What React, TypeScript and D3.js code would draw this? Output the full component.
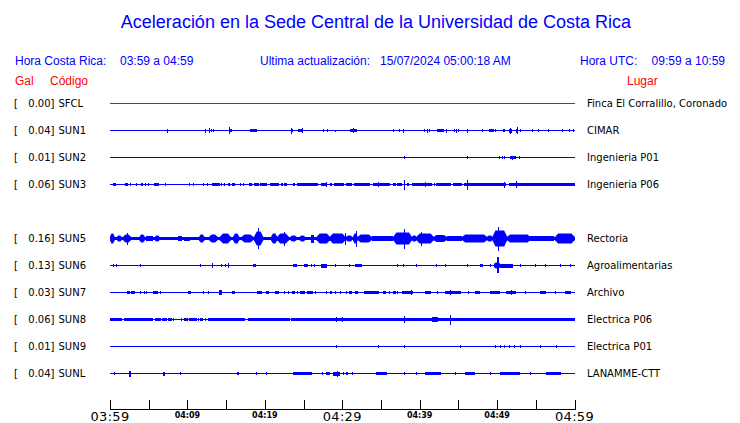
import React from "react";
import * as d3 from "d3";

// ---------- data ----------
const title = "Aceleración en la Sede Central de la Universidad de Costa Rica";
const crLabel = "Hora Costa Rica:";
const crRange = "03:59 a 04:59";
const updLabel = "Ultima actualización:";
const updValue = "15/07/2024 05:00:18 AM";
const utcLabel = "Hora UTC:";
const utcRange = "09:59 a 10:59";

const codes = ["SFCL", "SUN1", "SUN2", "SUN3", "SUN5", "SUN6", "SUN7", "SUN8", "SUN9", "SUNL"];
const galValues = ["0.00", "0.04", "0.01", "0.06", "0.16", "0.13", "0.03", "0.06", "0.01", "0.04"];
const places = [
  "Finca El Corralillo, Coronado",
  "CIMAR",
  "Ingenieria P01",
  "Ingenieria P06",
  "Rectoria",
  "Agroalimentarias",
  "Archivo",
  "Electrica P06",
  "Electrica P01",
  "LANAMME-CTT",
];
// slot of each station in the list (slot 4 = SUN4, not shown)
const slots = [0, 1, 2, 3, 5, 6, 7, 8, 9, 10];

// time axis: minutes after 03:59
const tickMinutes = d3.range(0, 61, 5);
const majorTicks = [0, 30, 60];
const majorTickLabels = ["03:59", "04:29", "04:59"];
const minorTicks = [10, 20, 40, 50];
const minorTickLabels = ["04:09", "04:19", "04:39", "04:49"];

// wave envelopes: [startMin, endMin, ampUp, ampDown?] (relative amplitude)
type Ev = number[];
const SFCL: Ev[] = [];
const SUN1: Ev[] = [
  [7.4, 7.4, 2], [12.3, 12.3, 2], [12.8, 12.8, 2.5], [13.1, 13.1, 1.5], [13.4, 13.4, 1.5],
  [15.4, 15.7, 1.5], [15.5, 15.5, 3.5], [18.1, 19.0, 1.5],
  [23.4, 23.7, 1.5], [23.5, 23.5, 3], [24.3, 24.9, 1.5], [24.9, 24.9, 2.5],
  [27.6, 27.6, 1.5], [28.1, 28.1, 1.5], [29.1, 29.1, 0.5, 1.5],
  [31.0, 31.9, 1.5], [31.4, 31.4, 2.5], [36.6, 36.6, 1.5], [37.3, 37.4, 1.5], [37.9, 37.9, 2],
  [40.6, 40.6, 1.5], [41.0, 41.0, 2], [41.3, 41.3, 1.5], [42.3, 43.2, 1.7], [43.5, 43.5, 2],
  [44.5, 44.5, 1.5], [44.8, 44.8, 2], [45.0, 45.0, 1.5], [46.2, 46.2, 2], [48.1, 48.1, 1.5],
  [49.0, 49.6, 1.7], [49.8, 49.8, 1.5], [50.8, 51.0, 1.5], [51.5, 51.9, 2], [51.7, 51.7, 3],
  [52.4, 52.7, 2], [52.6, 52.6, 3.5], [52.9, 53.1, 1.5], [54.6, 54.6, 1.5], [55.4, 55.4, 1.5],
  [56.7, 56.7, 1.5], [58.4, 58.4, 1.5], [59.4, 59.4, 1.5], [59.9, 59.9, 1.5],
];
const SUN2: Ev[] = [
  [38.0, 38.0, 1.5], [46.2, 46.2, 1.5], [50.3, 50.3, 1.2], [50.7, 50.7, 1.2], [51.0, 51.0, 1.5],
  [51.7, 52.4, 1.3], [52.0, 52.0, 2], [52.9, 52.9, 1.2],
];
const SUN3: Ev[] = [
  [0.4, 0.8, 1.7], [1.9, 2.3, 1.7], [2.6, 2.6, 1.5], [3.4, 3.4, 1.5], [4.0, 4.2, 1.7],
  [4.6, 4.6, 1.5], [5.0, 5.0, 1.5], [5.7, 6.3, 1.7], [7.2, 7.2, 1.5], [10.3, 10.3, 1.5],
  [10.8, 10.8, 1.5], [12.1, 12.1, 1.5], [12.6, 12.6, 1.5], [13.2, 14.2, 1.7], [14.4, 14.4, 1.5],
  [14.8, 14.8, 1.5], [15.3, 15.5, 1.7], [15.7, 16.2, 1.7], [16.9, 16.9, 1.5], [17.3, 17.3, 1.5],
  [18.0, 18.4, 1.7], [18.6, 19.2, 1.7], [19.4, 20.3, 1.7], [20.7, 21.8, 1.7], [22.1, 22.3, 1.7],
  [22.5, 22.9, 1.7], [23.6, 23.9, 1.7], [24.2, 26.9, 1.7], [27.2, 27.9, 1.7], [28.0, 28.0, 2.5],
  [28.4, 28.7, 1.7], [28.9, 30.2, 1.7], [30.5, 31.3, 1.7], [31.5, 33.6, 1.7], [34.0, 36.2, 1.7],
  [34.7, 34.7, 2.5], [36.6, 36.9, 1.7], [37.1, 37.7, 1.7], [38.0, 38.0, 5], [38.4, 38.6, 1.7],
  [39.0, 41.6, 1.7], [40.7, 40.7, 2.5], [41.9, 41.9, 1.5], [42.1, 44.0, 1.7], [44.3, 45.5, 1.7],
  [45.7, 50.2, 1.7], [46.2, 46.2, 5], [50.3, 51.1, 1.7], [50.9, 50.9, 3], [51.5, 60, 1.7],
  [52.5, 52.5, 3.5],
];
const SUN5: Ev[] = [
  [0, 60, 1.7],
  [0, 0.6, 5], [0.9, 1.5, 3], [1.7, 2.7, 4], [2.3, 2.3, 6], [3.8, 4.5, 4], [4.7, 5.6, 2.5],
  [5.8, 6.4, 3], [8.8, 9.3, 2.5], [9.5, 10.3, 2], [11.5, 12.2, 4], [12.8, 13.9, 4],
  [14.2, 15.6, 5], [15.9, 16.7, 5], [17.0, 18.5, 4], [18.6, 19.8, 7], [19.2, 19.2, 11, 10],
  [20.8, 21.6, 5], [21.6, 23.1, 5], [22.5, 22.5, 7], [23.3, 24.1, 3], [24.5, 25.2, 3],
  [26.0, 26.3, 4], [26.7, 28.4, 5], [28.4, 30.4, 5], [30.4, 30.4, 6], [30.5, 31.3, 3],
  [31.4, 32.0, 5], [31.8, 31.8, 8], [32.0, 33.8, 4], [33.8, 36.6, 2.2], [36.6, 39.0, 6],
  [38.0, 38.0, 10], [39.0, 39.6, 3], [39.6, 41.8, 5], [40.3, 40.3, 7], [41.8, 43.5, 3.5],
  [43.5, 45.5, 2.5], [45.5, 48.7, 4], [48.7, 49.4, 3], [49.4, 51.3, 8], [50.2, 50.2, 12, 12],
  [51.3, 54.3, 4], [54.3, 57.3, 2.5], [57.5, 60, 5],
];
const SUN6: Ev[] = [
  [0.4, 0.4, 1.5], [0.9, 0.9, 1.5], [4.0, 4.0, 1.5], [11.7, 11.7, 1.5], [13.2, 13.2, 2.5],
  [14.4, 14.5, 1.5], [14.8, 15.0, 1.5], [15.3, 15.3, 2.5], [18.5, 18.8, 1.5], [23.7, 24.2, 1.5],
  [25.1, 25.6, 1.5], [26.0, 26.0, 1.5], [26.4, 26.4, 1.5], [27.3, 28.0, 2], [29.1, 29.1, 1.5],
  [30.9, 30.9, 1.5], [31.7, 32.5, 1.5], [37.1, 37.1, 1.5], [37.8, 38.0, 1.5], [39.6, 39.6, 1.5],
  [42.2, 42.2, 1.5], [43.3, 43.3, 1.5], [46.2, 46.2, 1.5], [47.8, 48.2, 1.5], [49.1, 49.1, 1.5],
  [49.6, 50.4, 3], [49.95, 50.2, 9, 7], [50.4, 52.0, 2], [53.0, 53.0, 1.5], [55.0, 55.0, 1.5],
  [56.3, 56.3, 1.5], [58.2, 58.2, 1.5], [59.5, 59.5, 1.5],
];
const SUN7: Ev[] = [
  [2.2, 2.6, 1.7], [2.7, 3.2, 1.7], [4.0, 4.0, 1.5], [4.4, 4.4, 1.5], [4.7, 4.7, 1.5],
  [5.6, 6.2, 1.7], [6.5, 6.5, 1.5], [10.1, 10.4, 1.7], [12.1, 12.1, 1.5], [12.7, 12.7, 1.5],
  [14.1, 14.5, 2.5], [15.7, 16.2, 1.7], [19.0, 19.6, 1.7], [20.2, 20.6, 1.7], [21.3, 21.8, 1.7],
  [22.6, 22.6, 1.5], [23.1, 23.1, 1.5], [23.5, 23.9, 1.7], [24.2, 24.2, 1.5], [24.6, 25.2, 1.7],
  [25.4, 26.2, 1.7], [26.5, 26.5, 1.5], [28.0, 28.0, 1.5], [28.4, 28.7, 1.7], [29.1, 29.1, 1.5],
  [29.8, 29.8, 1.5], [30.5, 30.5, 1.5], [30.9, 31.3, 1.7], [31.7, 32.0, 1.7], [32.8, 34.7, 1.7],
  [35.3, 35.6, 1.7], [36.1, 36.1, 1.5], [36.6, 37.0, 1.7], [37.2, 37.2, 1.5], [37.7, 39.2, 1.7],
  [39.0, 39.0, 2.5], [40.7, 41.4, 1.7], [42.3, 42.3, 1.5], [43.3, 45.3, 1.7], [44.0, 44.0, 2.5],
  [46.3, 46.3, 1.5], [47.2, 47.8, 1.7], [49.1, 50.4, 1.7], [51.1, 52.4, 1.7], [51.8, 51.8, 2.5],
  [53.7, 53.7, 1.5], [55.6, 56.3, 1.7], [57.5, 57.5, 1.5], [58.8, 59.5, 1.7],
];
const SUN8: Ev[] = [
  [0, 1.5, 1.7], [1.8, 5.6, 1.7], [5.8, 6.6, 1.7], [6.7, 7.3, 1.7], [7.5, 8.0, 1.7],
  [8.2, 8.2, 1.5], [9.2, 9.2, 1.5], [9.5, 10.1, 1.7], [10.2, 11.2, 1.7], [11.4, 11.4, 1.5],
  [11.6, 12.0, 1.7], [12.3, 12.3, 1.5], [12.7, 17.5, 1.7], [17.8, 23.2, 1.7], [23.4, 60, 1.7],
  [29.2, 29.2, 2.5], [30.0, 30.0, 2.5], [38.1, 38.1, 3.5], [41.6, 42.4, 2.5], [44.0, 44.0, 5],
];
const SUN9: Ev[] = [
  [29.2, 29.2, 1.5], [34.7, 34.7, 1.2], [38.1, 38.1, 1.5], [45.3, 45.3, 1.2], [49.8, 49.8, 1.2],
  [50.5, 50.5, 1.2], [51.0, 51.0, 1.8], [51.6, 51.6, 1.2], [52.3, 52.3, 1.2], [53.0, 53.0, 1.2],
  [55.6, 55.6, 1.2], [57.7, 57.7, 1.2],
];
const SUNL: Ev[] = [
  [0.6, 0.6, 1.5], [2.5, 2.7, 2.5, 3.5], [6.9, 7.1, 2], [9.1, 9.1, 1.5], [16.4, 16.6, 1.5],
  [18.8, 19.0, 1.5], [20.2, 20.2, 1.5], [23.7, 26.1, 1.5], [27.5, 27.5, 1.5], [27.9, 28.4, 1.5],
  [28.8, 29.7, 2], [29.4, 29.4, 3], [30.1, 30.1, 1.5], [30.5, 30.8, 1.5], [31.3, 31.3, 1.5],
  [34.3, 35.8, 1.5], [38.1, 38.1, 1.5], [39.6, 39.6, 1.5], [40.7, 42.7, 1.5], [44.6, 44.6, 1.5],
  [45.9, 47.2, 1.5], [49.1, 49.1, 1.5], [50.4, 53.0, 1.5], [54.3, 54.3, 1.5], [56.3, 58.2, 1.5],
];
const traces: Ev[][] = [SFCL, SUN1, SUN2, SUN3, SUN5, SUN6, SUN7, SUN8, SUN9, SUNL];
const traceColors = ["#ff0000", "#0000ff", "#0000ff", "#0000ff", "#0000ff", "#0000ff", "#0000ff", "#0000ff", "#0000ff", "#0000ff"];

// ---------- chart ----------
const W = 740;
const H = 423;

export default function App() {
  const x = d3.scaleLinear().domain([0, 60]).range([110, 574.5]);
  const y = d3.scaleLinear().domain([0, 10]).range([103, 373]);
  const amp = d3.scaleLinear().domain([0, 1]).range([0, 1]);
  const sans = "'Liberation Sans', Arial, sans-serif";
  const dv = "'DejaVu Sans', sans-serif";
  const axisY = 409;

  const mark = (e: Ev, j: number, cy: number, col: string) => {
    const x0 = x(e[0]);
    const x1 = x(e[1]);
    const up = amp(e[2]);
    const dn = amp(e.length > 3 ? e[3] : e[2]);
    const w = x1 - x0;
    const c = cy + 0.5;
    if (e[2] >= 3 && w > 3) {
      // burst: spindle-shaped envelope
      const r = Math.min(w * 0.3, 3);
      const base = 1.7;
      const pts = [
        [x0, c - base], [x0 + r, c - up], [x1 - r, c - up], [x1, c - base],
        [x1, c + base], [x1 - r, c + dn], [x0 + r, c + dn], [x0, c + base],
      ];
      return <polygon key={j} points={pts.map((p) => p.join(",")).join(" ")} fill={col} />;
    }
    return (
      <rect
        key={j}
        x={e[0] === e[1] ? x0 - 0.5 : x0}
        y={c - up}
        width={Math.max(1, w)}
        height={up + dn}
        fill={col}
        shapeRendering="crispEdges"
      />
    );
  };

  return (
    <svg
      width={W}
      height={H}
      style={{ position: "absolute", left: 0, top: 0, display: "block", background: "#fff" }}
    >
      <rect width={W} height={H} fill="#fff" />
      <text x={376} y={28} textAnchor="middle" fontFamily={sans} fontSize={18} fill="#0000ff">
        {title}
      </text>
      <g fontFamily={sans} fontSize={12} fill="#0000ff">
        <text x={15} y={65}>{crLabel}</text>
        <text x={120} y={65}>{crRange}</text>
        <text x={260} y={65}>{updLabel}</text>
        <text x={380} y={65}>{updValue}</text>
        <text x={580} y={65}>{utcLabel}</text>
        <text x={725} y={65} textAnchor="end">{utcRange}</text>
      </g>
      <g fontFamily={sans} fontSize={12} fill="#ff0000">
        <text x={15} y={85}>Gal</text>
        <text x={50} y={85}>Código</text>
        <text x={627} y={85}>Lugar</text>
      </g>

      {codes.map((code, i) => {
        const cy = Math.round(y(slots[i]));
        const col = traceColors[i];
        return (
          <g key={code}>
            <g fontFamily={dv} fontSize={10} fill="#000">
              <text x={14} y={cy + 4}>[</text>
              <text x={54.5} y={cy + 4} textAnchor="end">{galValues[i] + "]"}</text>
              <text x={58.5} y={cy + 4}>{code}</text>
              <text x={587} y={cy + 4}>{places[i]}</text>
            </g>
            <rect x={x(0)} y={cy} width={x(60) - x(0)} height={1} fill={col} shapeRendering="crispEdges" />
            {traces[i].map((e, j) => mark(e, j, cy, col))}
          </g>
        );
      })}

      <g>
        <line x1={x(0)} x2={x(60)} y1={axisY + 0.5} y2={axisY + 0.5} stroke="#000" strokeWidth={1} shapeRendering="crispEdges" />
        {tickMinutes.map((t) => (
          <line key={t} x1={Math.round(x(t)) + 0.5} x2={Math.round(x(t)) + 0.5} y1={axisY - 9} y2={axisY + 1} stroke="#000" shapeRendering="crispEdges" />
        ))}
        {majorTicks.map((t, i) => (
          <text key={t} x={x(t)} y={421} textAnchor="middle" fontFamily={dv} fontSize={13} fill="#000" letterSpacing={0.3}>
            {majorTickLabels[i]}
          </text>
        ))}
        {minorTicks.map((t, i) => (
          <text key={t} x={x(t)} y={418} textAnchor="middle" fontFamily={dv} fontSize={8} fontWeight="bold" fill="#000">
            {minorTickLabels[i]}
          </text>
        ))}
      </g>
    </svg>
  );
}
